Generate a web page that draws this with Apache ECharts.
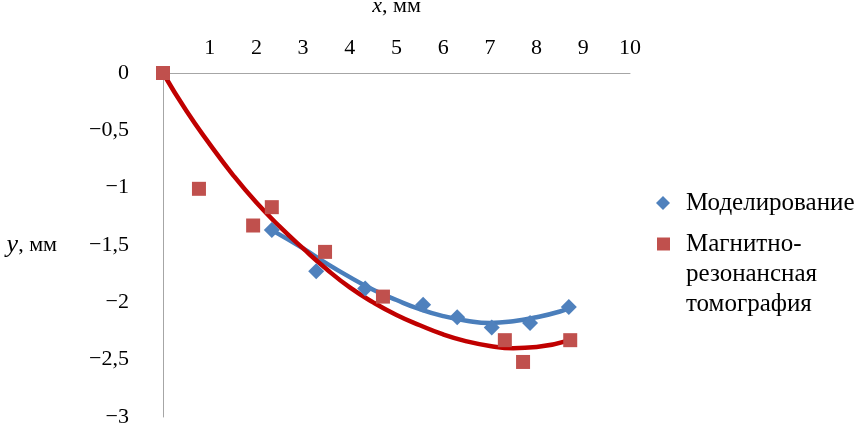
<!DOCTYPE html>
<html>
<head>
<meta charset="utf-8">
<script src="https://cdn.jsdelivr.net/npm/echarts@6/dist/echarts.min.js"></script>
<style>
html,body{margin:0;padding:0;background:#fff;}
#main{width:855px;height:425px;}
</style>
</head>
<body>
<div id="main"></div>
<script>
// точки моделирования
var modelX=[2.33,3.28,4.33,5.57,6.30,7.04,7.86,8.69];
var modelY=[-1.37,-1.73,-1.88,-2.02,-2.13,-2.22,-2.18,-2.04];
// точки МРТ
var mriX=[0,0.77,1.93,2.33,3.47,4.71,7.32,7.71,8.72];
var mriY=[0,-1.01,-1.33,-1.17,-1.56,-1.95,-2.33,-2.52,-2.33];
// линии тренда
var modelTrendX=[2.33,3.0,3.5,4.0,4.5,5.0,5.5,6.0,6.5,7.0,7.5,8.0,8.5,8.72];
var modelTrendY=[-1.37,-1.53,-1.66,-1.78,-1.89,-1.98,-2.06,-2.12,-2.16,-2.18,-2.165,-2.13,-2.08,-2.045];
var mriTrendX=[0,0.5,1,1.5,2,2.5,3,3.5,4,4.5,5,5.5,6,6.5,7,7.5,8,8.72];
var mriTrendY=[0,-0.33,-0.62,-0.89,-1.13,-1.34,-1.53,-1.71,-1.87,-2.00,-2.11,-2.20,-2.28,-2.34,-2.38,-2.40,-2.39,-2.33];

var nameModel="Моделирование";
var nameMri="Магнитно-\nрезонансная\nтомография";

function pairs(xs,ys){
    var arr=[];
    for(var i=0;i<xs.length;i++){
        arr.push([xs[i],ys[i]]);
    }
    return arr;
}

var font="'Liberation Serif','Times New Roman',serif";
var blue="#4F81BD";
var red="#C0504D";

var myChart=echarts.init(document.getElementById("main"));
var option={
    backgroundColor:"#fff",
    animation:false,
    textStyle:{fontFamily:font},
    grid:{left:163,right:225,top:73,bottom:8,containLabel:false,outerBoundsMode:"none"},
    legend:[{
        orient:"vertical",
        left:651,
        top:183,
        itemWidth:14,
        itemHeight:14,
        itemGap:0,
        textStyle:{fontFamily:font,fontSize:25,color:"#000",lineHeight:30,padding:[0,0,0,11]},
        data:[nameModel]
    },{
        orient:"vertical",
        left:652,
        top:164,
        itemWidth:13,
        itemHeight:13,
        itemGap:0,
        // две пустые строки сверху, чтобы значок стоял у первой строки
        formatter:function(n){return "\n\n"+n;},
        textStyle:{fontFamily:font,fontSize:25,color:"#000",lineHeight:30,padding:[0,0,0,11]},
        data:[nameMri]
    }],
    xAxis:{
        type:"value",
        position:"top",
        min:0,
        max:10,
        interval:1,
        name:"{i|x}, мм",
        nameLocation:"middle",
        nameGap:56,
        nameTextStyle:{
            fontFamily:font,fontSize:22,color:"#000",
            rich:{i:{fontFamily:font,fontSize:22,fontStyle:"italic",color:"#000"}}
        },
        axisLine:{show:true,onZero:false,lineStyle:{color:"#A6A6A6",width:1}},
        axisTick:{show:false},
        splitLine:{show:false},
        axisLabel:{
            showMinLabel:false,
            margin:14,
            fontFamily:font,fontSize:22,color:"#000"
        }
    },
    yAxis:{
        type:"value",
        min:-3,
        max:0,
        interval:0.5,
        name:"{i|y}, мм",
        nameLocation:"middle",
        nameRotate:0,
        nameGap:106,
        nameTextStyle:{
            fontFamily:font,fontSize:22,color:"#000",
            rich:{i:{fontFamily:font,fontSize:26,fontStyle:"italic",color:"#000"}}
        },
        axisLine:{show:true,lineStyle:{color:"#A6A6A6",width:1}},
        axisTick:{show:false},
        splitLine:{show:false},
        axisLabel:{
            margin:34,
            fontFamily:font,fontSize:22,color:"#000",
            formatter:function(v){
                if(v==0) return "0";
                return "\u2212"+String(-v).replace(".",",");
            }
        }
    },
    series:[
        {
            name:"Тренд моделирования",
            type:"line",
            smooth:true,
            showSymbol:false,
            data:pairs(modelTrendX,modelTrendY),
            lineStyle:{color:"#4A7EBB",width:4.5},
            itemStyle:{color:"#4A7EBB"},
            z:2
        },
        {
            name:"Тренд МРТ",
            type:"line",
            smooth:true,
            showSymbol:false,
            data:pairs(mriTrendX,mriTrendY),
            lineStyle:{color:"#C00000",width:4.5},
            itemStyle:{color:"#C00000"},
            z:3
        },
        {
            name:nameModel,
            type:"scatter",
            symbol:"diamond",
            symbolSize:16,
            data:pairs(modelX,modelY),
            itemStyle:{color:blue,opacity:1},
            z:4
        },
        {
            name:nameMri,
            type:"scatter",
            symbol:"rect",
            symbolSize:14,
            data:pairs(mriX,mriY),
            itemStyle:{color:red,opacity:1},
            z:4
        }
    ]
};
myChart.setOption(option);
</script>
</body>
</html>
